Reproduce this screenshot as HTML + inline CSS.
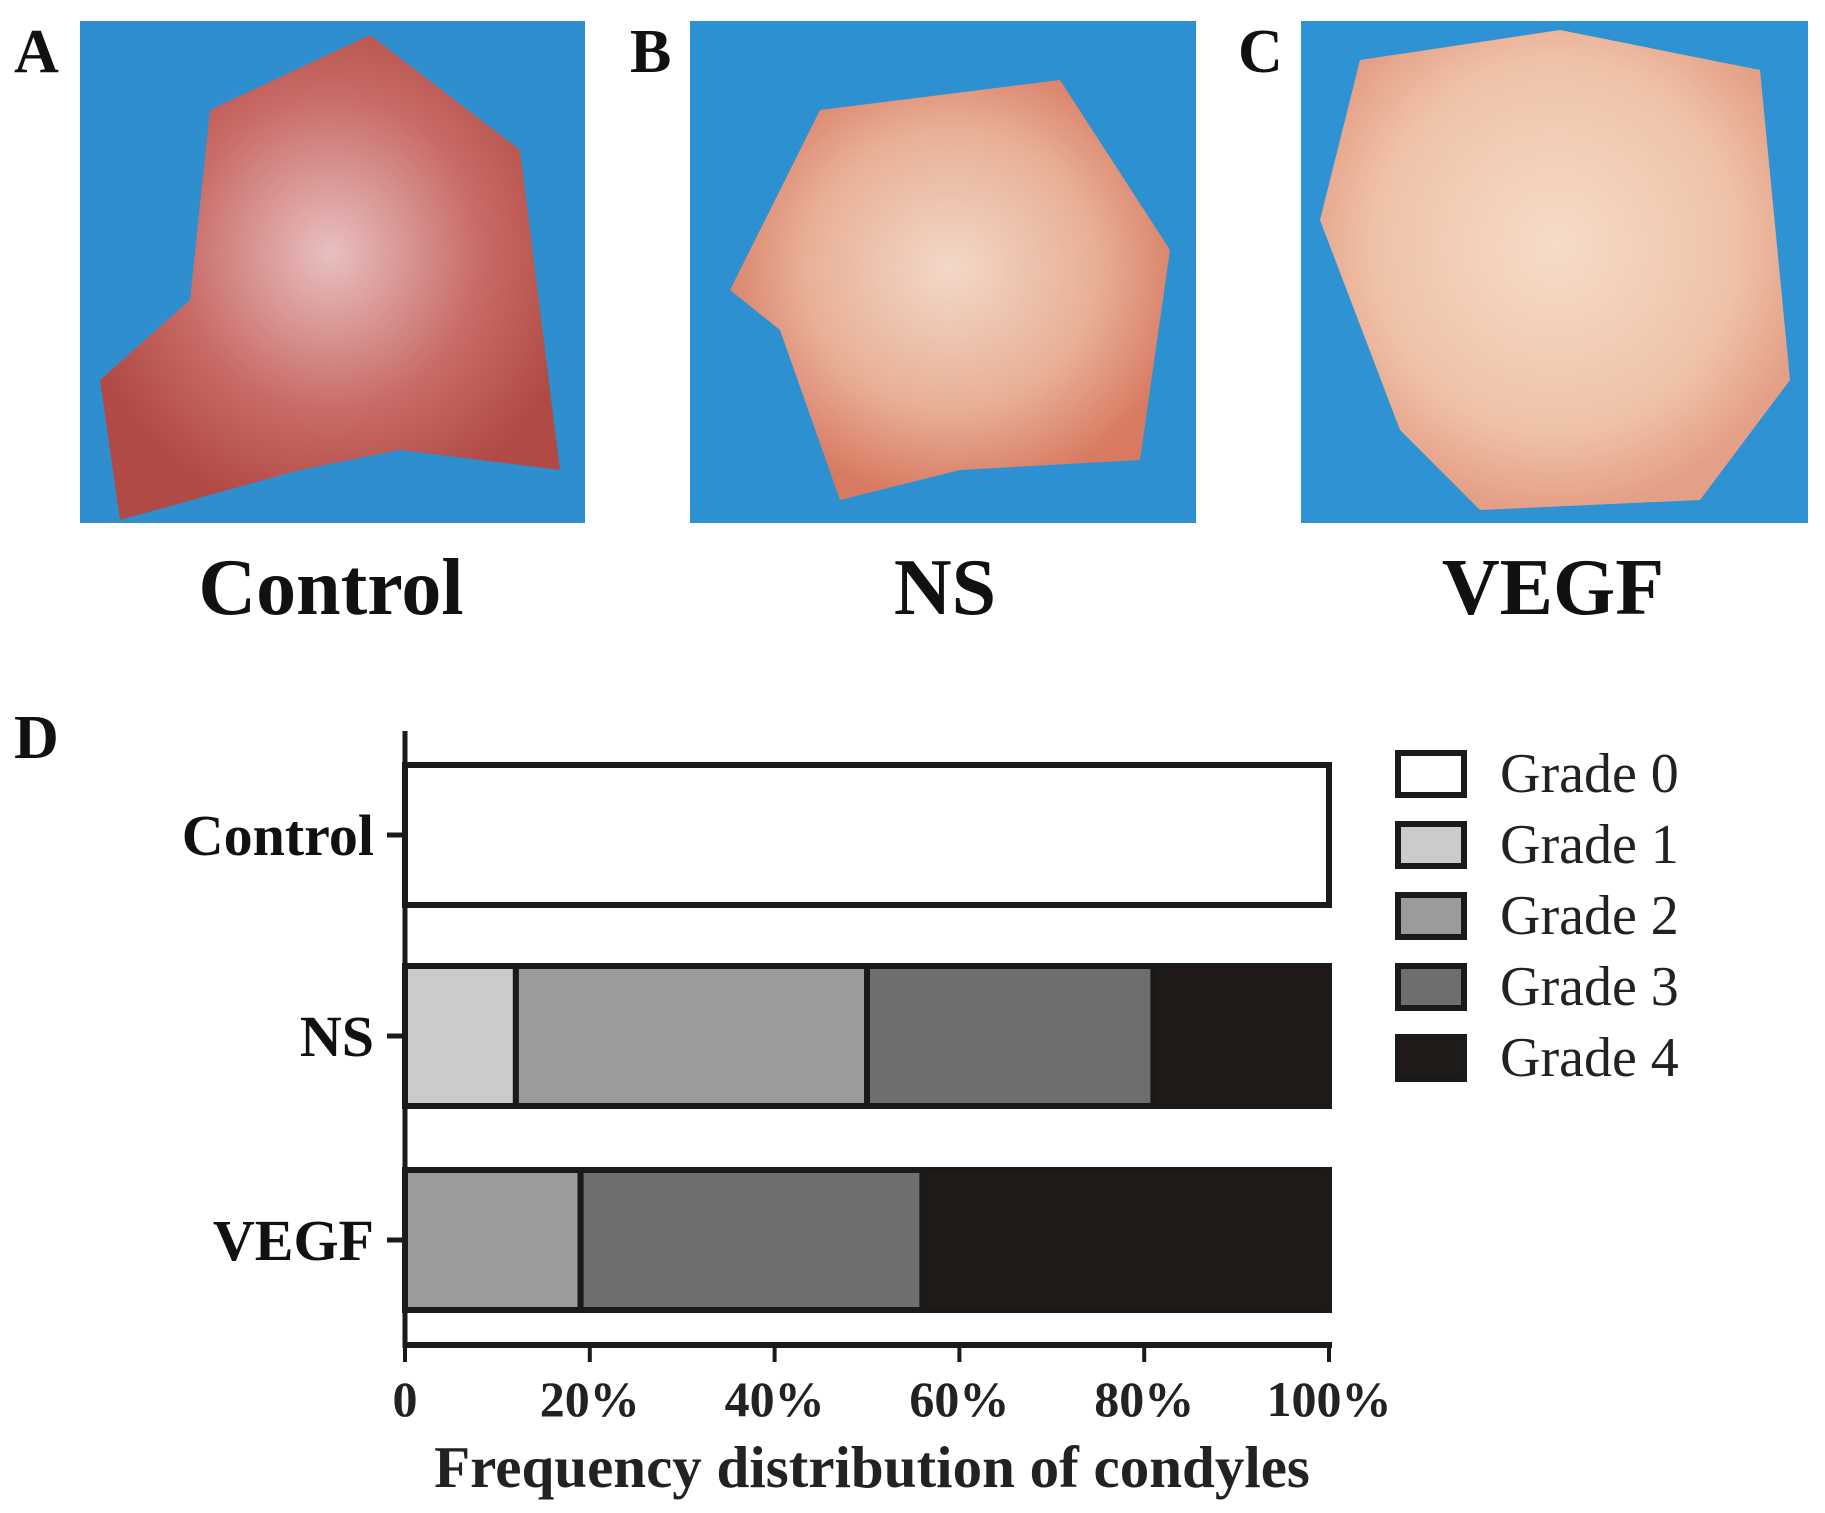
<!DOCTYPE html>
<html><head><meta charset="utf-8"><style>
body{margin:0;background:#fff;width:1825px;height:1513px;overflow:hidden;font-family:"Liberation Serif",serif;}
svg{display:block}
</style></head><body>
<svg width="1825" height="1513" xmlns="http://www.w3.org/2000/svg">
<defs>
<radialGradient id="tA" cx="50%" cy="45%" r="55%"><stop offset="0" stop-color="#e8c0c0"/><stop offset="0.6" stop-color="#c86a66"/><stop offset="1" stop-color="#b04a44"/></radialGradient>
<radialGradient id="tB" cx="50%" cy="45%" r="55%"><stop offset="0" stop-color="#f3d8c8"/><stop offset="0.6" stop-color="#e8b096"/><stop offset="1" stop-color="#d87a62"/></radialGradient>
<radialGradient id="tC" cx="50%" cy="45%" r="55%"><stop offset="0" stop-color="#f6dcc8"/><stop offset="0.7" stop-color="#efc2a8"/><stop offset="1" stop-color="#e4a086"/></radialGradient>
</defs>
<g>
<rect x="80" y="21" width="505" height="502" fill="#2f8fce"/>
<path d="M210,110 L370,35 L520,150 L560,470 L400,450 L300,470 L120,520 L100,380 L190,300 Z" fill="url(#tA)"/>
</g>
<g>
<rect x="690" y="21" width="506" height="502" fill="#2d90d0"/>
<path d="M820,110 L1060,80 L1170,250 L1140,460 L960,470 L840,500 L780,330 L730,290 Z" fill="url(#tB)"/>
</g>
<g>
<rect x="1301" y="21" width="507" height="502" fill="#2f92d2"/>
<path d="M1360,60 L1560,30 L1760,70 L1790,380 L1700,500 L1480,510 L1400,430 L1320,220 Z" fill="url(#tC)"/>
</g>
<g font-weight="bold" fill="#111">
<text x="14" y="72" font-size="62">A</text>
<text x="630" y="72" font-size="62">B</text>
<text x="1238" y="72" font-size="62">C</text>
<text x="14" y="758" font-size="62">D</text>
<text x="331" y="614" font-size="80" text-anchor="middle">Control</text>
<text x="945" y="614" font-size="80" text-anchor="middle">NS</text>
<text x="1553" y="614" font-size="80" text-anchor="middle">VEGF</text>
</g>
<g id="chart"></g>
</svg>
<script>
const categories=["Control","NS","VEGF"];
const grade0=[100,0,0];
const grade1=[0,12,0];
const grade2=[0,38,19];
const grade3=[0,31,37];
const grade4=[0,19,44];
const tickLabels=["0","20%","40%","60%","80%","100%"];
const tickValues=[0,20,40,60,80,100];
const seriesNames=["Grade 0","Grade 1","Grade 2","Grade 3","Grade 4"];
const colors=["#ffffff","#cbcbcb","#9b9b9b","#6e6e6e","#201a18"];
const NS="http://www.w3.org/2000/svg";
const g=document.getElementById('chart');
const x0=405,x1=1329;
const xs=v=>x0+(x1-x0)*v/100;
const rowTop=[765,966,1170],barH=140;
const ys=i=>rowTop[i];
function mk(t,a){const e=document.createElementNS(NS,t);for(const k in a)e.setAttribute(k,a[k]);g.appendChild(e);return e;}
const series=[grade0,grade1,grade2,grade3,grade4];
categories.forEach((c,i)=>{
  let acc=0;
  series.forEach((s,k)=>{
    if(s[i]<=0)return;
    const r=mk('rect',{x:xs(acc),y:ys(i),width:xs(acc+s[i])-xs(acc),height:barH,fill:colors[k],stroke:'#1a1a1a','stroke-width':6});
    
    
    acc+=s[i];
  });
  const tk=mk('line',{x1:x0-18,x2:x0,y1:ys(i)+barH/2,y2:ys(i)+barH/2,stroke:'#1a1a1a','stroke-width':5});
  
  
  const t=mk('text',{x:374,y:ys(i)+barH/2+20,'font-size':58,'font-weight':'bold','text-anchor':'end',fill:'#111'});
  t.textContent=c;
  
  
});
const ya=mk('line',{x1:x0,x2:x0,y1:731,y2:1348,stroke:'#1a1a1a','stroke-width':5});


const xa=mk('line',{x1:x0-2,x2:x1+3,y1:1345,y2:1345,stroke:'#1a1a1a','stroke-width':6});


tickValues.forEach((v,i)=>{
  const l=mk('line',{x1:xs(v),x2:xs(v),y1:1345,y2:1362,stroke:'#1a1a1a','stroke-width':4});
  
  
  const t=mk('text',{x:xs(v),y:1416,'font-size':50,'font-weight':'bold','text-anchor':'middle',fill:'#222'});
  t.textContent=tickLabels[i];
  
  
});
const xt=mk('text',{x:872,y:1487,'font-size':59,'font-weight':'bold','text-anchor':'middle',fill:'#222'});
xt.textContent="Frequency distribution of condyles";


seriesNames.forEach((n,k)=>{
  const y=753+k*71;
  const r=mk('rect',{x:1398,y:y,width:66,height:42,fill:colors[k],stroke:'#1a1a1a','stroke-width':6});
  
  
  const t=mk('text',{x:1500,y:y+39,'font-size':56,fill:'#222'});
  t.textContent=n;
  
  
});
</script>
</body></html>
